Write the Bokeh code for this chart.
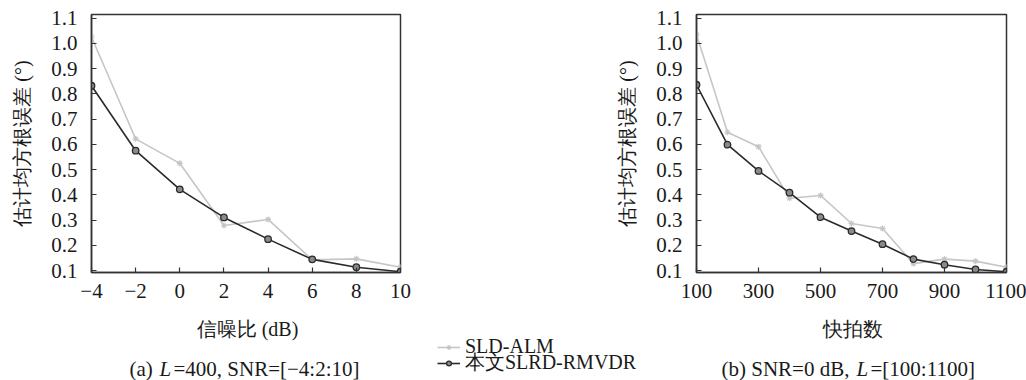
from bokeh.plotting import figure
from bokeh.models import (FixedTicker, PrintfTickFormatter, Legend, LegendItem,
                          Label, Range1d, ColumnDataSource)
from bokeh.layouts import row, column
from bokeh.embed import file_html
from bokeh.resources import INLINE

# ---------------- data ----------------
snr = [-4, -2, 0, 2, 4, 6, 8, 10]
snr_sld_alm = [1.025, 0.622, 0.525, 0.279, 0.303, 0.143, 0.147, 0.114]
snr_proposed = [0.832, 0.575, 0.422, 0.311, 0.225, 0.145, 0.114, 0.096]

snapshots = [100, 200, 300, 400, 500, 600, 700, 800, 900, 1000, 1100]
snap_sld_alm = [1.035, 0.648, 0.591, 0.387, 0.398, 0.287, 0.267, 0.128, 0.146, 0.138, 0.114]
snap_proposed = [0.836, 0.599, 0.495, 0.409, 0.312, 0.257, 0.205, 0.146, 0.124, 0.105, 0.096]

y_ticks = [0.1, 0.2, 0.3, 0.4, 0.5, 0.6, 0.7, 0.8, 0.9, 1.0, 1.1]
snr_ticks = [-4, -2, 0, 2, 4, 6, 8, 10]
snap_ticks = [100, 300, 500, 700, 900, 1100]

series_names = ["SLD-ALM", "本文SLRD-RMVDR"]
y_label = "估计均方根误差 (°)"
x_label_a = "信噪比 (dB)"
x_label_b = "快拍数"

# ---------------- style ----------------
FONT = "Liberation Serif"
TXT = "#1a1a1a"
GRAY = "#c6c6c6"
DARK = "#2a2a2a"
FRAME = "#333333"
Y_RANGE = (0.093, 1.114)
TOP_H = 305          # height of the two chart canvases
BOT_H = 380 - TOP_H  # strip below them (axis titles, legend, captions)
FRAME_TOP, FRAME_BOTTOM = 14, 272


def make_fig(x_range, width, mbl, mbr, xticks, overrides=None):
    p = figure(width=width, height=TOP_H, x_range=Range1d(*x_range),
               y_range=Range1d(*Y_RANGE), output_backend="svg",
               toolbar_location=None, min_border_left=mbl,
               min_border_right=mbr, min_border_top=FRAME_TOP,
               min_border_bottom=TOP_H - FRAME_BOTTOM)
    p.grid.visible = False
    p.outline_line_color = FRAME
    p.outline_line_width = 1.5
    for ax in (p.xaxis, p.yaxis):
        ax.axis_line_color = FRAME
        ax.axis_line_width = 1.5
        ax.major_tick_line_color = FRAME
        ax.major_tick_line_width = 1.2
        ax.major_tick_in = 5
        ax.major_tick_out = 0
        ax.minor_tick_line_color = None
        ax.major_label_text_font = FONT
        ax.major_label_text_font_size = "21px"
        ax.major_label_text_color = TXT
        ax.axis_label_text_font = FONT
        ax.axis_label_text_font_size = "20px"
        ax.axis_label_text_font_style = "normal"
        ax.axis_label_text_color = TXT
    p.xaxis.ticker = FixedTicker(ticks=xticks)
    p.yaxis.ticker = FixedTicker(ticks=y_ticks)
    p.yaxis.formatter = PrintfTickFormatter(format="%.1f")
    if overrides:
        p.xaxis.major_label_overrides = overrides
    p.xaxis.major_label_standoff = 11
    p.yaxis.major_label_standoff = 14
    p.yaxis.axis_label_standoff = 15
    p.yaxis.axis_label = y_label
    return p


def style_gray(p, src):
    l = p.line("x", "y", source=src, line_color=GRAY, line_width=1.6)
    s = p.scatter("x", "y", source=src, marker="asterisk", size=6,
                  line_color=GRAY, line_width=1.2)
    return [l, s]


def style_dark(p, src):
    l = p.line("x", "y", source=src, line_color=DARK, line_width=1.6)
    s = p.scatter("x", "y", source=src, marker="circle", size=6.5,
                  line_color=DARK, fill_color="#8a8a8a", line_width=1.3)
    return [l, s]


def add_series(p, xs, y_gray, y_dark):
    style_gray(p, ColumnDataSource(data=dict(x=xs, y=y_gray)))
    style_dark(p, ColumnDataSource(data=dict(x=xs, y=y_dark)))


# left chart: canvas x 0..430, frame 91..400
pa = make_fig((snr[0], snr[-1]), 430, 91, 30, snr_ticks,
              overrides={-4: "−4", -2: "−2"})
add_series(pa, snr, snr_sld_alm, snr_proposed)

# right chart: canvas x 430..1026, frame 696..1006
pb = make_fig((snapshots[0], snapshots[-1]), 596, 266, 20, snap_ticks)
add_series(pb, snapshots, snap_sld_alm, snap_proposed)

# bottom strip: data units == pixels (x from left, y from bottom)
pc = figure(width=1026, height=BOT_H, x_range=Range1d(0, 1026),
            y_range=Range1d(0, BOT_H), output_backend="svg",
            toolbar_location=None, min_border=0)
pc.axis.visible = False
pc.grid.visible = False
pc.outline_line_color = None


def ytxt(page_y):
    return 380 - page_y


def text(x, page_y, s, style="normal", align="center", size="20px"):
    pc.add_layout(Label(x=x, y=ytxt(page_y), text=s, text_font=FONT,
                        text_font_size=size, text_font_style=style,
                        text_color=TXT, text_align=align,
                        text_baseline="middle"))


# axis titles
text(247, 328, x_label_a)
text(852, 328, x_label_b)

# captions
CAP_Y, CAP_S = 368, "21px"
x0 = 245 - 116
text(x0, CAP_Y, "(a) ", align="left", size=CAP_S)
text(x0 + 30, CAP_Y, "L", style="italic", align="left", size=CAP_S)
text(x0 + 44, CAP_Y, "=400, SNR=[−4:2:10]", align="left", size=CAP_S)
x1 = 850 - 129
text(x1, CAP_Y, "(b) SNR=0 dB, ", align="left", size=CAP_S)
text(x1 + 135, CAP_Y, "L", style="italic", align="left", size=CAP_S)
text(x1 + 149, CAP_Y, "=[100:1100]", align="left", size=CAP_S)

# legend: one legend per row; sample renderers hold no visible data
nan = float("nan")
key_gray = style_gray(pc, ColumnDataSource(data=dict(x=[nan], y=[nan])))
key_dark = style_dark(pc, ColumnDataSource(data=dict(x=[nan], y=[nan])))
for name, rends, row_y in ((series_names[0], key_gray, 347),
                           (series_names[1], key_dark, 365)):
    lg = Legend(items=[LegendItem(label=name, renderers=rends)],
                location=(437, ytxt(row_y + 11)), orientation="vertical",
                background_fill_alpha=0, border_line_color=None, padding=0,
                margin=0, spacing=0, label_height=18, glyph_height=12,
                glyph_width=23, label_standoff=5, label_text_font=FONT,
                label_text_font_size="20px", label_text_color=TXT)
    pc.add_layout(lg, "center")

layout = column(row(pa, pb), pc)
open("out.html", "w").write(file_html(layout, INLINE))
